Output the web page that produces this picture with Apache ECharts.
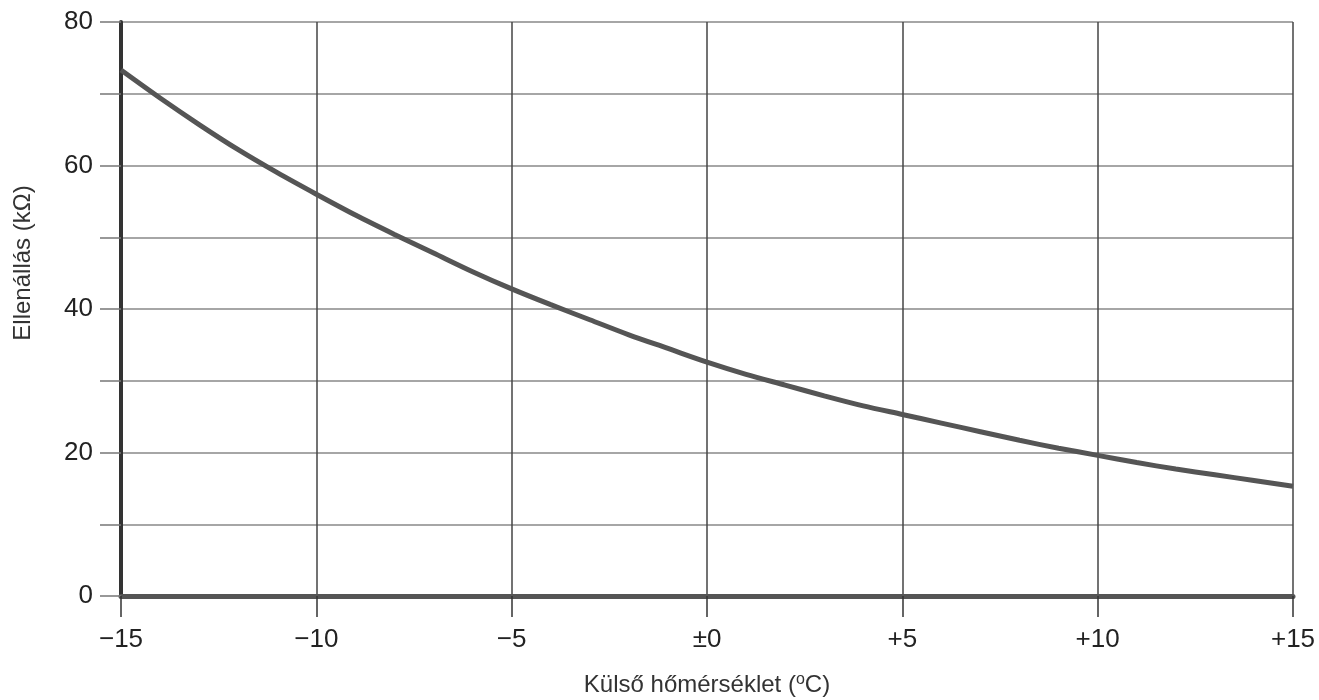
<!DOCTYPE html>
<html>
<head>
<meta charset="utf-8">
<script src="https://cdn.jsdelivr.net/npm/echarts@6/dist/echarts.min.js"></script>
<style>
html,body{margin:0;padding:0;background:#fff;}
#chart{width:1319px;height:700px;}
</style>
</head>
<body>
<div id="chart"></div>
<script>
// Outside temperature (°C)
const temperatures = [-15,-14,-13,-12,-11,-10,-9,-8,-7,-6,-5,-4,-3,-2,-1,0,1,2,3,4,5,6,7,8,9,10,11,12,13,14,15];
// Resistance (kΩ)
const resistance = [73.3,69.4,65.7,62.2,59.0,56.0,53.1,50.4,47.8,45.2,42.8,40.6,38.5,36.4,34.5,32.6,30.9,29.4,27.9,26.5,25.3,24.1,22.9,21.7,20.6,19.6,18.6,17.7,16.9,16.1,15.3];
const yTickLabels = [0,20,40,60,80];
const xAxisTitle = 'Külső hőmérséklet (';
const yAxisTitle = 'Ellenállás (kΩ)';

const font = '"Liberation Sans", Arial, Helvetica, sans-serif';
const chart = echarts.init(document.getElementById('chart'));
chart.setOption({
  animation: false,
  backgroundColor: '#fff',
  grid: {left: 121, right: 26, top: 22, bottom: 104, containLabel: false, outerBoundsMode: 'none'},
  xAxis: {
    type: 'value', min: -15, max: 15, interval: 5,
    name: '{t|' + xAxisTitle + '}{s|o}{t|C)}',
    nameLocation: 'middle', nameGap: 76,
    nameTextStyle: {
      rich: {
        t: {fontFamily: font, fontSize: 24, color: '#333'},
        s: {fontFamily: font, fontSize: 16, color: '#333', verticalAlign: 'top', padding: [0,0,10,0]}
      }
    },
    axisLine: {show: true, onZero: false, lineStyle: {color: '#555', width: 5}},
    axisTick: {show: true, length: 21, lineStyle: {color: '#333', width: 1.5}},
    axisLabel: {
      margin: 31, fontFamily: font, fontSize: 26, color: '#222',
      formatter: v => v < 0 ? '\u2212' + Math.abs(v) : (v === 0 ? '\u00b10' : '+' + v)
    },
    splitLine: {show: true, lineStyle: {color: '#444', width: 1.5}}
  },
  yAxis: {
    type: 'value', min: 0, max: 80, interval: 10,
    name: yAxisTitle,
    nameLocation: 'middle', nameGap: 86, nameRotate: 90,
    nameTextStyle: {fontFamily: font, fontSize: 24, color: '#333', padding: [0,0,0,92]},
    axisLine: {show: true, onZero: false, lineStyle: {color: '#333', width: 4}},
    axisTick: {show: true, length: 21, lineStyle: {color: '#777', width: 1.5}},
    axisLabel: {
      margin: 28, fontFamily: font, fontSize: 26, color: '#222',
      formatter: v => yTickLabels.indexOf(v) >= 0 ? String(v) : ''
    },
    splitLine: {show: true, lineStyle: {color: '#888', width: 1.5}}
  },
  series: [{
    type: 'line',
    data: temperatures.map((t, i) => [t, resistance[i]]),
    smooth: 0.3,
    showSymbol: false,
    lineStyle: {color: '#555', width: 5, cap: 'butt'}
  }]
});
</script>
</body>
</html>
